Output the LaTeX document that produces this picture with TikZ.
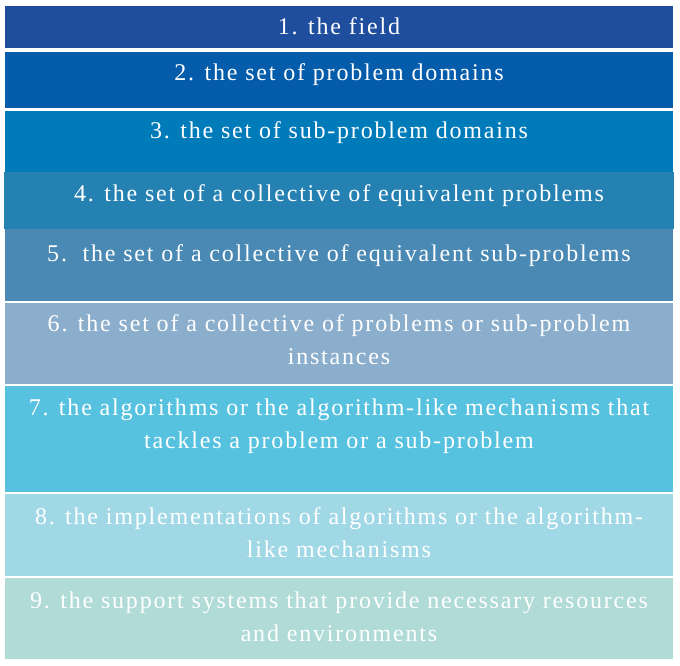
\documentclass[tikz,border=0pt]{standalone}
\usepackage{fontspec}
\setmainfont{Liberation Serif}[LetterSpace=7.5]
\definecolor{cA}{HTML}{1F4E9F}
\definecolor{cB}{HTML}{055CAB}
\definecolor{cC}{HTML}{007BBA}
\definecolor{cD}{HTML}{2581B1}
\definecolor{cE}{HTML}{4A89B4}
\definecolor{cF}{HTML}{8BAECC}
\definecolor{cG}{HTML}{57C2DF}
\definecolor{cH}{HTML}{A0D8E6}
\definecolor{cI}{HTML}{B0DBD6}
\tikzset{
  lbl/.style={text=white, anchor=base, align=center, inner sep=0pt,
    font=\fontsize{24}{33}\selectfont}
}
\begin{document}
\begin{tikzpicture}[x=1pt,y=-1pt]
\fill[white] (0,0) rectangle (680,666);
\useasboundingbox (0,0) rectangle (680,666);
\fill[cA] (5,6) rectangle (673,48);
\fill[cB] (5,52) rectangle (673,108);
\fill[cC] (5,111) rectangle (673,172);
\fill[cD] (4,172) rectangle (674,229);
\fill[cE] (5,229) rectangle (673,301);
\fill[cF] (5,303) rectangle (673,384);
\fill[cG] (5,386) rectangle (673,492);
\fill[cH] (5,494) rectangle (673,576);
\fill[cI] (5,578) rectangle (673,659);
% single-line labels: anchor at baseline; two-line labels: anchor at baseline of last line
\node[lbl] (t1) at (339,35) {1. the field};
\node[lbl] (t2) at (339,81) {2. the set of problem domains};
\node[lbl] (t3) at (339,139) {3. the set of sub-problem domains};
\node[lbl] (t4) at (339,201) {4. the set of a collective of equivalent problems};
\node[lbl] (t5) at (339,261) {5.\ \ the set of a collective of equivalent sub-problems};
\node[lbl] (t6) at (339,364) {6. the set of a collective of problems or sub-problem\\instances};
\node[lbl] (t7) at (339,448) {7. the algorithms or the algorithm-like mechanisms that\\tackles a problem or a sub-problem};
\node[lbl] (t8) at (339,557) {8. the implementations of algorithms or the algorithm-\\like mechanisms};
\node[lbl] (t9) at (339,641) {9. the support systems that provide necessary resources\\and environments};
\end{tikzpicture}
\end{document}
